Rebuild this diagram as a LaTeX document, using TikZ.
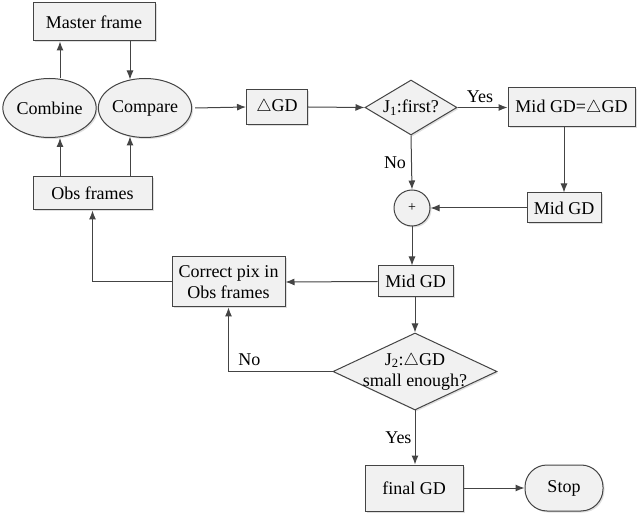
\documentclass[tikz,border=0pt]{standalone}
\usepackage{fontspec}
\setmainfont{Liberation Serif}
\usetikzlibrary{shapes.geometric,arrows.meta,shadows}
\definecolor{ln}{HTML}{444444}
\definecolor{bx}{HTML}{F1F1F1}
\begin{document}
\begin{tikzpicture}[x=1pt,y=-1pt,
  font=\rmfamily\fontsize{18}{20}\selectfont,
  base/.style={draw=ln,line width=1pt,fill=bx,inner sep=0pt,align=center,
     drop shadow={shadow xshift=1.5pt,shadow yshift=-1.5pt,opacity=0.25}},
  box/.style={base,rectangle},
  ell/.style={base,ellipse},
  dia/.style={base,diamond},
  arr/.style={draw=ln,line width=1pt,-{Latex[length=9pt,width=7pt]}},
  lbl/.style={inner sep=0pt}]
\useasboundingbox (0,0) rectangle (638,513);
\node[box,minimum width=122,minimum height=38] (master) at (94,22) {Master frame};
\node[ell,minimum width=91,minimum height=59] (combine) at (49.5,108) {Combine};
\node[ell,minimum width=90,minimum height=59] (compare) at (145,108) {Compare};
\node[box,minimum width=119,minimum height=33] (obs) at (92.5,193.5) {Obs frames};
\node[box,minimum width=61,minimum height=35] (dgd) at (277,107) {$\triangle$GD};
\node[dia,minimum width=92,minimum height=55,label={[lbl]center:J\textsubscript{1}:first?}] (j1) at (411,107.5) {};
\node[box,minimum width=127,minimum height=39] (midgdeq) at (571.5,107.5) {Mid GD=$\triangle$GD};
\node[box,minimum width=74,minimum height=30] (midgdR) at (564,208) {Mid GD};
\node[base,circle,minimum size=36,font=\rmfamily\fontsize{14}{16}\selectfont] (plus) at (412,208) {+};
\node[box,minimum width=75,minimum height=31] (midgdM) at (415.5,281.5) {Mid GD};
\node[box,minimum width=113,minimum height=50,font=\rmfamily\fontsize{18}{21}\selectfont] (correct) at (228.5,282) {Correct pix in\\Obs frames};
\node[dia,minimum width=164,minimum height=77,label={[lbl,align=center,font=\rmfamily\fontsize{18}{21}\selectfont]center:J\textsubscript{2}:$\triangle$GD\\small enough?}] (j2) at (415,371.5) {};
\node[box,minimum width=98,minimum height=46] (final) at (414,488) {final GD};
\node[box,rounded corners=22pt,minimum width=78,minimum height=46] (stop) at (564,488) {Stop};
% connectors
\draw[arr] ([xshift=10.5pt]combine.north) -- ([xshift=10.5pt]combine.north |- master.south);
\draw[arr] ([xshift=-15pt]compare.north |- master.south) -- ([xshift=-15pt,yshift=-1.5pt]compare.north);
\draw[arr] ([xshift=10.5pt]combine.south |- obs.north) -- ([xshift=10.5pt]combine.south);
\draw[arr] ([xshift=-15pt]compare.south |- obs.north) -- ([xshift=-15pt,yshift=1.5pt]compare.south);
\draw[arr] ([xshift=3pt]compare.east) -- (dgd.west);
\draw[arr] (dgd.east) -- (j1.west);
\draw[arr] (j1.east) -- node[lbl,above=4pt,pos=0.45] (yes1) {Yes} (midgdeq.west);
\draw[arr] (midgdeq.south -| midgdR.north) -- (midgdR.north);
\draw[arr] (j1.south) -- node[lbl,left=5pt,pos=0.5] (no1) {No} (plus.north);
\draw[arr] (midgdR.west) -- (plus.east);
\draw[arr] (plus.south) -- (plus.south |- midgdM.north);
\draw[arr] (midgdM.west) -- (correct.east);
\draw[arr] (correct.west) -| (obs.south);
\draw[arr] (midgdM.south -| j2.north) -- (j2.north);
\draw[arr] (j2.west) -| node[lbl,above=5pt,pos=0.4] (no2) {No} (correct.south);
\draw[arr] (j2.south) -- node[lbl,left=3pt,pos=0.5] (yes2) {Yes} (j2.south |- final.north);
\draw[arr] (final.east) -- (stop.west);
\end{tikzpicture}
\end{document}
